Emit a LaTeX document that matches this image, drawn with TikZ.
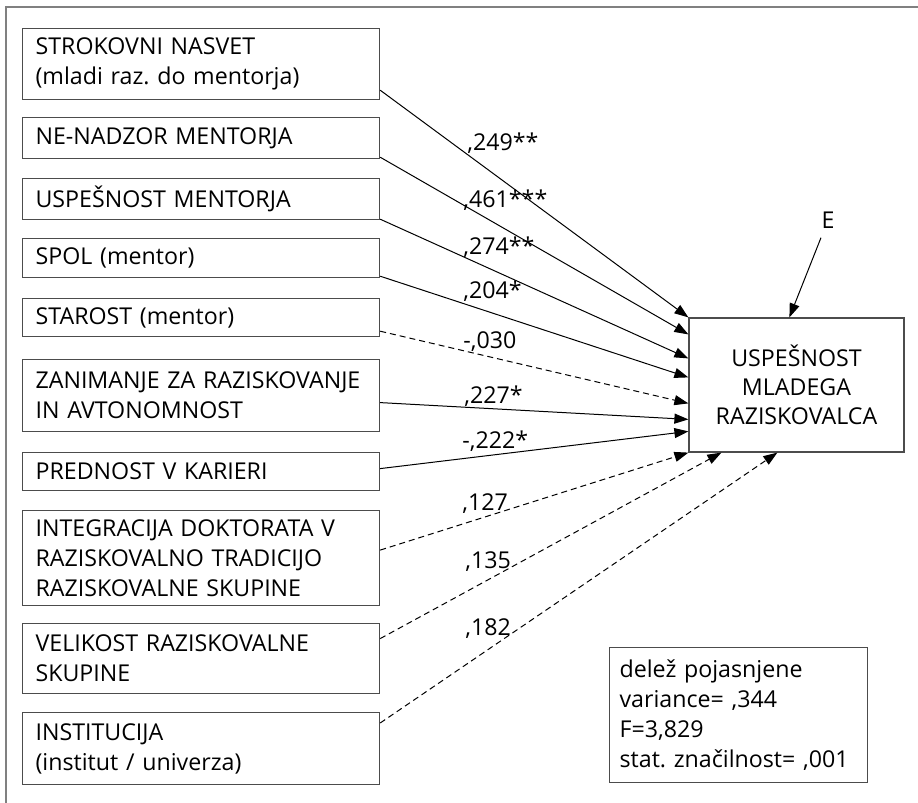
\documentclass[tikz,border=0pt]{standalone}
\usepackage{fontspec}
\setmainfont{Open Sans}
\usetikzlibrary{arrows.meta}
\definecolor{boxgray}{gray}{0.3}
\definecolor{framegray}{gray}{0.5}
\frenchspacing
\begin{document}
\begin{tikzpicture}[x=0.5pt,y=-0.5pt,font=\fontsize{11.6}{15}\selectfont,
  var/.style={draw=boxgray,line width=0.6pt,anchor=north west,align=left,
    text width=165.5pt,inner xsep=6.5pt,inner ysep=0pt},
  coef/.style={anchor=base west,inner sep=0pt},
  arr/.style={-{Triangle[length=7pt,width=5pt]},line width=0.5pt},
  ns/.style={arr,dash pattern=on 3pt off 2pt}]
\useasboundingbox (0,0) rectangle (918,803);
\draw[framegray,line width=1pt] (6,803) -- (6,6.5) -- (918,6.5);
\node[var,minimum height=35.5pt] (s1) at (22,28) {STROKOVNI NASVET\\(mladi raz. do mentorja)};
\node[var,minimum height=20.5pt] (s2) at (22,117) {NE-NADZOR MENTORJA};
\node[var,minimum height=20.5pt] (s3) at (22,178) {USPEŠNOST MENTORJA};
\node[var,minimum height=19.5pt] (s4) at (22,238) {SPOL (mentor)};
\node[var,minimum height=19pt] (s5) at (22,298) {STAROST (mentor)};
\node[var,minimum height=36pt] (s6) at (22,359) {ZANIMANJE ZA RAZISKOVANJE\\IN AVTONOMNOST};
\node[var,minimum height=19pt] (s7) at (22,452) {PREDNOST V KARIERI};
\node[var,minimum height=47.5pt] (s8) at (22,510) {INTEGRACIJA DOKTORATA V\\RAZISKOVALNO TRADICIJO\\RAZISKOVALNE SKUPINE};
\node[var,minimum height=35pt] (s9) at (22,623) {VELIKOST RAZISKOVALNE\\SKUPINE};
\node[var,minimum height=36pt] (s10) at (22,712) {INSTITUCIJA\\(institut / univerza)};
\node[draw=boxgray,line width=0.6pt,align=center,minimum width=107.5pt,minimum height=67pt,
  font=\fontsize{11.6}{14.5}\selectfont] (t) at (796.5,385) {USPEŠNOST\\MLADEGA\\RAZISKOVALCA};
\node[inner sep=4.5pt] (e) at (828,220) {E};
\node[var,text width=119pt,inner xsep=5pt,minimum height=67.5pt] (st) at (609,647)
  {delež pojasnjene\\variance= ,344\\F=3,829\\stat. značilnost= ,001};
\node[coef] (c1) at (467,150.5) {,249**};
\node[coef] (c2) at (463,207.5) {,461***};
\node[coef] (c3) at (463,254.5) {,274**};
\node[coef] (c4) at (463,298.5) {,204*};
\node[coef] (c5) at (463,348.5) {-,030};
\node[coef] (c6) at (464,403.5) {,227*};
\node[coef] (c7) at (462,448.5) {-,222*};
\node[coef] (c8) at (462,510.5) {,127};
\node[coef] (c9) at (465,568.5) {,135};
\node[coef] (c10) at (465,635.5) {,182};
\draw[arr] ([yshift=5pt]s1.south east) -- (t.north west);
\draw[arr] ([yshift=1pt]s2.south east) -- ([yshift=-8.5pt]t.north west);
\draw[arr] ([yshift=0.5pt]s3.south east) -- ([yshift=-20.5pt]t.north west);
\draw[arr] ([yshift=1pt]s4.south east) -- ([yshift=-30pt]t.north west);
\draw[ns] ([yshift=3pt]s5.south east) -- ([yshift=-43pt]t.north west);
\draw[arr] ([yshift=-3.5pt]s6.east) -- ([yshift=-51pt]t.north west);
\draw[arr] ([yshift=1.5pt]s7.east) -- ([yshift=-57pt]t.north west);
\draw[ns] ([yshift=4pt]s8.east) -- (t.south west);
\draw[ns] ([yshift=10pt]s9.east) -- ([xshift=16.5pt]t.south west);
\draw[ns] ([yshift=-5.5pt]s10.north east) -- ([xshift=44.5pt]t.south west);
\draw[arr] (e) -- ([xshift=50.5pt]t.north west);
\end{tikzpicture}
\end{document}
